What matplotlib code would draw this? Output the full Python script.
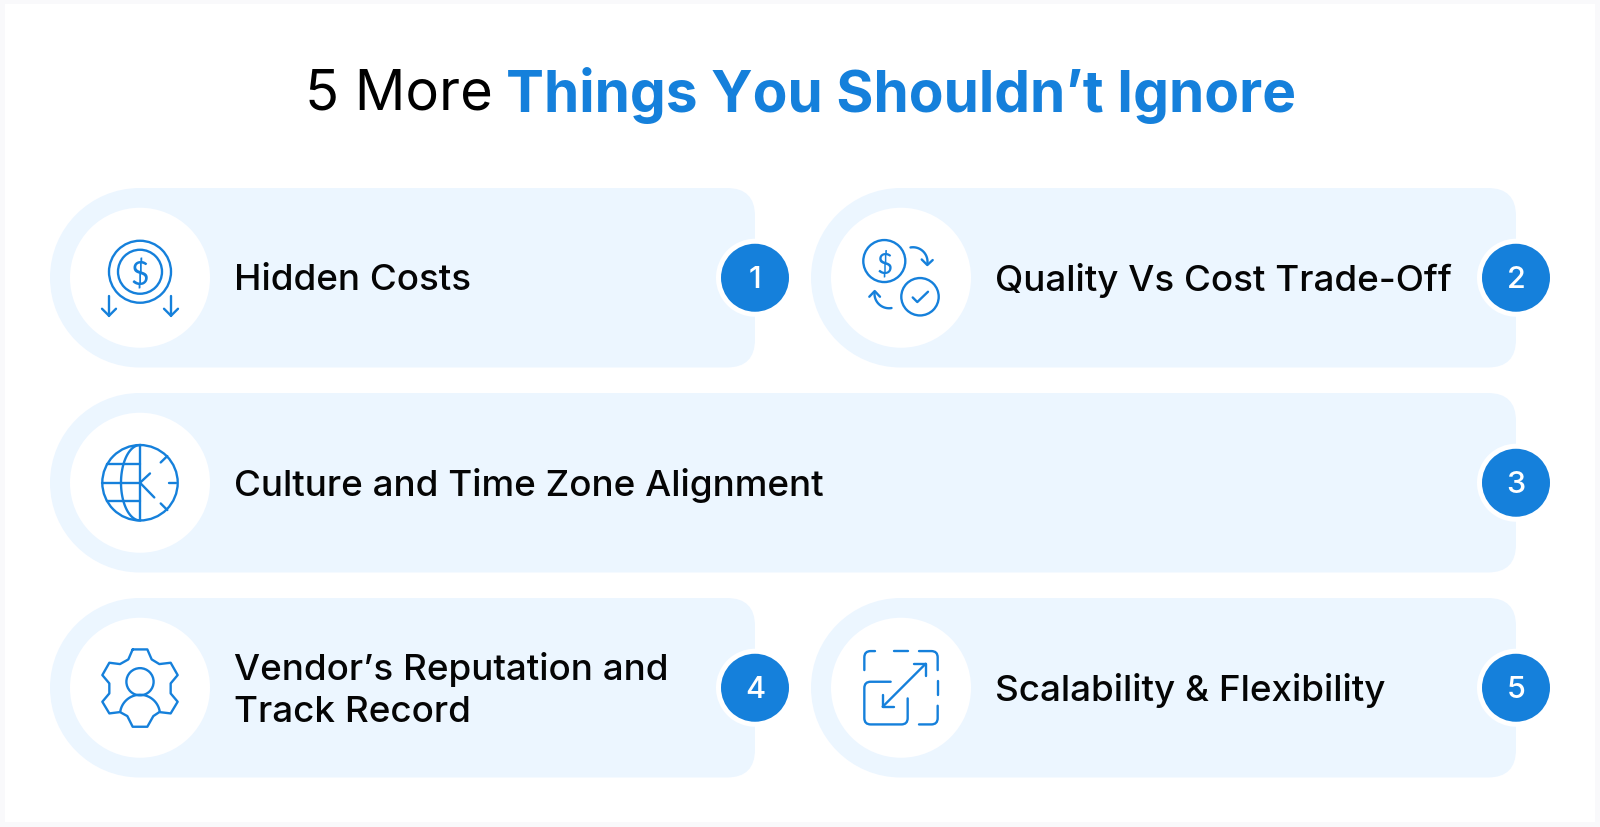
import numpy as np
import matplotlib
matplotlib.use("Agg")
import matplotlib.pyplot as plt
from matplotlib.patches import Circle, PathPatch, Rectangle
from matplotlib.path import Path

title_plain = "5 More"
title_bold = "Things You Shouldn\u2019t Ignore"
labels = ["Hidden Costs", "Quality Vs Cost Trade-Off", "Culture and Time Zone Alignment",
          "Vendor\u2019s Reputation and\nTrack Record", "Scalability & Flexibility"]
numbers = ["1", "2", "3", "4", "5"]

BLUE = "#1580DB"
CARD = "#ECF6FF"
EDGE = "#F9F9FB"
FONT = ["Inter", "Lato", "DejaVu Sans"]
LW = 1.7

fig = plt.figure(figsize=(16, 8.28), dpi=100, facecolor=EDGE)
ax = fig.add_axes([0, 0, 1, 1])
ax.set_xlim(0, 1600)
ax.set_ylim(828, 0)
ax.axis("off")

ax.add_patch(Rectangle((5, 5), 1590, 818, fc="white", ec="none"))


def card_path(x0, x1, y0, y1, rr=28):
    h = y1 - y0
    r = h / 2
    k = 0.5523
    V = [(x0 + r, y0), (x1 - rr, y0), (x1, y0), (x1, y0 + rr), (x1, y1 - rr), (x1, y1), (x1 - rr, y1),
         (x0 + r, y1),
         (x0 + r - k * r, y1), (x0, y0 + r + k * r), (x0, y0 + r),
         (x0, y0 + r - k * r), (x0 + r - k * r, y0), (x0 + r, y0)]
    C = [Path.MOVETO, Path.LINETO, Path.CURVE3, Path.CURVE3, Path.LINETO, Path.CURVE3, Path.CURVE3,
         Path.LINETO, Path.CURVE4, Path.CURVE4, Path.CURVE4, Path.CURVE4, Path.CURVE4, Path.CURVE4]
    return Path(V, C)


def line(pts, cx, cy):
    xs = [cx + p[0] for p in pts]
    ys = [cy + p[1] for p in pts]
    ax.plot(xs, ys, color=BLUE, lw=LW, solid_capstyle="round", solid_joinstyle="round", zorder=5)


def circ(cx, cy, r):
    ax.add_patch(Circle((cx, cy), r, fc="none", ec=BLUE, lw=LW, zorder=5))


def arc(cx, cy, r, a0, a1):
    t = np.radians(np.linspace(a0, a1, 40))
    ax.plot(cx + r * np.cos(t), cy + r * np.sin(t), color=BLUE, lw=LW,
            solid_capstyle="round", zorder=5)


def rounded(pts, cx, cy):
    V, C = [], []
    for i, (x, y, f) in enumerate(pts):
        V.append((cx + x, cy + y))
        if i == 0:
            C.append(Path.MOVETO)
        elif f in ("c", "e"):
            C.append(Path.CURVE3)
        else:
            C.append(Path.LINETO)
    ax.add_patch(PathPatch(Path(V, C), fc="none", ec=BLUE, lw=LW, capstyle="round", zorder=5))


def dollar(cx, cy, size):
    ax.text(cx, cy, "$", color=BLUE, fontsize=size, ha="center", va="center_baseline",
            family=["Lato", "DejaVu Sans"], zorder=5)


def icon_costs(cx, cy):
    circ(cx, cy - 6, 31)
    circ(cx, cy - 6, 22)
    dollar(cx, cy - 6, 23)
    for s in (-31, 31):
        line([(s, 18), (s, 38)], cx, cy)
        line([(s - 7, 31), (s, 38), (s + 7, 31)], cx, cy)


def icon_quality(cx, cy):
    circ(cx - 16.7, cy - 16.7, 21)
    dollar(cx - 16.7, cy - 16.7, 20)
    circ(cx + 19, cy + 19, 18.7)
    line([(11.7, 19.7), (16.3, 24.3), (27, 14)], cx, cy)
    arc(cx + 12, cy - 16, 14.5, -100, 5)
    line([(20.7, -18.3), (26.3, -12.7), (31.7, -17.7)], cx, cy)
    arc(cx - 12, cy + 16, 14.5, 80, 185)
    line([(-31.7, 19), (-26.3, 13.3), (-21, 19)], cx, cy)


def icon_globe(cx, cy):
    R = 37.7
    circ(cx, cy, R)
    line([(0, -R), (0, R)], cx, cy)
    t = np.radians(np.linspace(90, 270, 60))
    ax.plot(cx + 19 * np.cos(t), cy + R * np.sin(t), color=BLUE, lw=LW, zorder=5)
    for yy in (-18.3, 0, 18.3):
        line([(-np.sqrt(R ** 2 - yy ** 2), yy), (0, yy)], cx, cy)
    line([(10, -9.3), (0, 0), (14.3, 14.7)], cx, cy)
    line([(20.7, -20.3), (27.3, -26.7)], cx, cy)
    line([(29.3, 0), (36, 0)], cx, cy)
    line([(20.7, 20.7), (27.3, 27.3)], cx, cy)


def icon_gear(cx, cy):
    g = [(278, 178), (322, 178), (335, 208), (358, 222), (392, 218), (413, 255), (392, 280),
         (392, 310), (413, 335), (392, 370), (358, 366), (340, 378), (322, 410), (278, 410),
         (262, 378), (240, 366), (208, 370), (187, 335), (208, 310), (208, 280), (187, 255),
         (208, 218), (240, 222), (265, 208), (278, 178)]
    line([((x - 300) / 3, (y - 293) / 3) for x, y in g], cx, cy)
    circ(cx, cy - 6, 13.6)
    arc(cx, cy + 27, 20, 189, 351)


def icon_scale(cx, cy):
    q = lambda x, y: ((x - 303) / 3, (y - 293) / 3)

    def seg(*p):
        out = []
        for x, y, f in p:
            a, b = q(x, y)
            out.append((a, b, f))
        rounded(out, cx, cy)
    seg((193, 240, ""), (193, 202, ""), (193, 183, "c"), (212, 183, "e"), (225, 183, ""))
    seg((282, 183, ""), (325, 183, ""))
    seg((357, 183, ""), (394, 183, ""), (413, 183, "c"), (413, 202, "e"), (413, 240, ""))
    seg((413, 272, ""), (413, 315, ""))
    seg((413, 347, ""), (413, 384, ""), (413, 403, "c"), (394, 403, "e"), (357, 403, ""))
    seg((272, 275, ""), (212, 275, ""), (193, 275, "c"), (193, 294, "e"), (193, 384, ""),
        (193, 403, "c"), (212, 403, "e"), (304, 403, ""), (323, 403, "c"), (323, 384, "e"), (323, 325, ""))
    line([q(248, 350), q(377, 221)], cx, cy)
    line([q(342, 221), q(377, 221), q(377, 257)], cx, cy)
    line([q(248, 315), q(248, 350), q(283, 350)], cx, cy)


LEFT = (50, 755)
RIGHT = (811, 1516)
WIDE = (50, 1516)
rows = [(189, 368.5), (394, 573.5), (599, 778.5)]
placement = [(LEFT, 0), (RIGHT, 0), (WIDE, 1), (LEFT, 2), (RIGHT, 2)]
icons = [icon_costs, icon_quality, icon_globe, icon_gear, icon_scale]

for lab, num, (span, row), icon in zip(labels, numbers, placement, icons):
    y0, y1 = rows[row]
    x0, x1 = span
    cy = (y0 + y1) / 2
    ax.add_patch(PathPatch(card_path(x0, x1, y0, y1), fc=CARD, ec="none", zorder=1))
    ax.add_patch(Circle((x0 + 90, cy), 70, fc="white", ec="none", zorder=2))
    icon(x0 + 90, cy)
    ax.text(x0 + 184, cy + 2, lab, fontsize=26.5, weight=500, family=FONT, color="#050505",
            ha="left", va="center", linespacing=1.33, zorder=6)
    ax.add_patch(Circle((x1, cy), 39, fc="white", ec="none", zorder=3))
    ax.add_patch(Circle((x1, cy), 34, fc=BLUE, ec="none", zorder=4))
    ax.text(x1, cy + 1, num, fontsize=22, weight=500, family=FONT, color="white",
            ha="center", va="center", zorder=6)

ax.text(305, 95, title_plain, fontsize=40.3, family=FONT, weight=400, color="black", ha="left", va="center")
ax.text(506, 95, title_bold, fontsize=40.9, family=FONT, weight="bold", color=BLUE, ha="left", va="center")

fig.savefig("out.png", dpi=100, facecolor=EDGE)
